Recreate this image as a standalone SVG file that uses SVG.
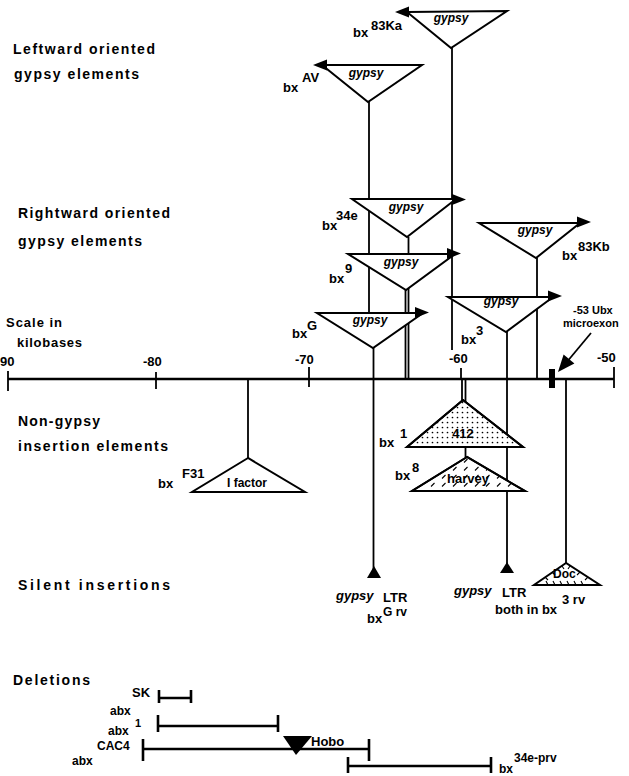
<svg xmlns="http://www.w3.org/2000/svg" width="629" height="776" viewBox="0 0 629 776">
<style>
text{font-family:"Liberation Sans",Arial,sans-serif;font-weight:bold;fill:#000}
.h{font-size:14px}
.s{font-size:13px}
.m{font-size:12px}
.x{font-size:11px}
.g{font-size:12px;font-style:italic}
.gi{font-size:13px;font-style:italic}
.c{text-anchor:middle}
.tri{fill:#fff;stroke:#000;stroke-width:2;stroke-linejoin:miter}
.ln{stroke:#000;stroke-width:1.8;fill:none}
.bar{stroke:#000;stroke-width:2.6;fill:none}
.hd{fill:#000;stroke:none}
</style>
<defs>
<pattern id="dots" width="5" height="5" patternUnits="userSpaceOnUse"><circle cx="2.5" cy="2.5" r="0.85" fill="#000"/></pattern>
<pattern id="dash" width="11" height="8" patternUnits="userSpaceOnUse"><path d="M2 6.5 L5.5 3" stroke="#000" stroke-width="1.1"/></pattern>
</defs>

<g id="labels">
<text class="h" x="13" y="54" textLength="142" lengthAdjust="spacing">Leftward oriented</text>
<text class="h" x="14" y="79" textLength="125" lengthAdjust="spacing">gypsy elements</text>
<text class="h" x="18" y="218" textLength="152" lengthAdjust="spacing">Rightward oriented</text>
<text class="h" x="18" y="246" textLength="124" lengthAdjust="spacing">gypsy elements</text>
<text class="s" x="6" y="327" textLength="56" lengthAdjust="spacing">Scale in</text>
<text class="s" x="17" y="347" textLength="65" lengthAdjust="spacing">kilobases</text>
<text class="h" x="18" y="426" textLength="82" lengthAdjust="spacing">Non-gypsy</text>
<text class="h" x="18" y="451" textLength="150" lengthAdjust="spacing">insertion elements</text>
<text class="h" x="18" y="590" textLength="152" lengthAdjust="spacing">Silent insertions</text>
<text class="h" x="13" y="685" textLength="77" lengthAdjust="spacing">Deletions</text>
</g>

<g id="scale">
<line class="bar" x1="8" y1="379" x2="614" y2="379"/>
<line class="ln" x1="8" y1="371" x2="8" y2="391"/>
<line class="ln" x1="156" y1="372" x2="156" y2="389"/>
<line class="ln" x1="309" y1="367" x2="309" y2="387"/>
<line class="ln" x1="461" y1="368" x2="461" y2="379"/>
<line class="ln" x1="614" y1="367" x2="614" y2="388"/>
<text class="s" x="0" y="366">90</text>
<text class="s" x="143" y="366">-80</text>
<text class="s" x="295" y="364">-70</text>
<text class="s" x="449" y="363">-60</text>
<text class="s" x="597" y="362">-50</text>
</g>

<g id="connectors">
<line class="ln" x1="452" y1="48" x2="452" y2="350"/>
<line class="ln" x1="369" y1="102" x2="369" y2="313"/>
<line class="ln" x1="408.5" y1="237" x2="408.5" y2="379"/>
<line class="ln" x1="405.5" y1="290" x2="405.5" y2="379"/>
<line class="ln" x1="373.5" y1="348" x2="373.5" y2="570"/>
<line class="ln" x1="537" y1="258" x2="537" y2="379"/>
<line class="ln" x1="507" y1="332" x2="507" y2="565"/>
<line class="ln" x1="248" y1="379" x2="248" y2="458"/>
<line class="ln" x1="462" y1="379" x2="462" y2="400"/>
<line class="ln" x1="465.5" y1="379" x2="465.5" y2="457"/>
<line class="ln" x1="566" y1="379" x2="566" y2="563"/>
<line class="ln" x1="591" y1="333" x2="566" y2="363"/>
<polygon class="hd" points="558,372 574.4,363.5 563.6,354.5"/>
</g>

<g id="bx83Ka">
<polygon class="tri" points="407,12 507,11 451,48"/>
<polygon class="hd" points="395,12 409,6.5 409,17.5"/>
<text class="g c" x="451" y="22">gypsy</text>
<text class="s" x="353" y="37">bx</text>
<text class="s" x="371" y="30">83Ka</text>
</g>

<g id="bxAV">
<polygon class="tri" points="322,65 422,65 368,102"/>
<polygon class="hd" points="313,65 327,59.5 327,70.5"/>
<text class="g c" x="366" y="77">gypsy</text>
<text class="s" x="283" y="92">bx</text>
<text class="s" x="302" y="82">AV</text>
</g>

<g id="bx34e">
<polygon class="tri" points="352,199 456,199 407,237"/>
<polygon class="hd" points="466,199.5 452,194 452,205"/>
<text class="g c" x="406" y="211">gypsy</text>
<text class="s" x="322" y="230">bx</text>
<text class="s" x="336" y="220">34e</text>
</g>

<g id="bx9">
<polygon class="tri" points="348,254 455,254 406,290"/>
<polygon class="hd" points="461,253.5 447,248 447,259"/>
<text class="g c" x="401" y="266">gypsy</text>
<text class="s" x="329" y="283">bx</text>
<text class="s" x="345" y="273">9</text>
</g>

<g id="bxG">
<polygon class="tri" points="317,313 423,313 373,348"/>
<polygon class="hd" points="429,312.5 415,307 415,318"/>
<text class="g c" x="370" y="324">gypsy</text>
<text class="s" x="292" y="338">bx</text>
<text class="s" x="307" y="330">G</text>
</g>

<g id="bx83Kb">
<polygon class="tri" points="479,223 580,223 536,258"/>
<polygon class="hd" points="591,222 577,216.5 577,227.5"/>
<text class="g c" x="535" y="234">gypsy</text>
<text class="s" x="562" y="260">bx</text>
<text class="s" x="578" y="251">83Kb</text>
</g>

<g id="bx3">
<polygon class="tri" points="448,297 553,297 506,332"/>
<polygon class="hd" points="562,296 548,290.5 548,301.5"/>
<text class="g c" x="501" y="305">gypsy</text>
<text class="s" x="461" y="344">bx</text>
<text class="s" x="476" y="335">3</text>
</g>

<g id="microexon">
<rect x="549" y="369" width="6" height="19" fill="#000"/>
<text class="x" x="573" y="314">-53 Ubx</text>
<text class="x" x="563" y="327">microexon</text>
</g>

<g id="Ifactor">
<polygon class="tri" points="248,458 192,492 305,492"/>
<text class="m c" x="247" y="487">I factor</text>
<text class="s" x="158" y="488">bx</text>
<text class="s" x="182" y="478">F31</text>
</g>

<g id="el412">
<polygon class="tri" points="463,400 407,447 523,447"/>
<polygon points="463,400 407,447 523,447" fill="url(#dots)" stroke="#000" stroke-width="2"/>
<text class="s c" x="463" y="438">412</text>
<text class="s" x="379" y="447">bx</text>
<text class="s" x="400" y="438">1</text>
</g>

<g id="harvey">
<polygon class="tri" points="467,457 412,491 525,491"/>
<polygon points="467,457 412,491 525,491" fill="url(#dash)" stroke="#000" stroke-width="2"/>
<text class="s c" x="468" y="483">harvey</text>
<text class="s" x="395" y="480">bx</text>
<text class="s" x="412" y="472">8</text>
</g>

<g id="silentG">
<polygon class="hd" points="367,578 381,578 374,566"/>
<text class="gi" x="336" y="600">gypsy</text>
<text class="s" x="383" y="602">LTR</text>
<text class="s" x="367" y="623">bx</text>
<text class="m" x="383" y="616">G rv</text>
</g>

<g id="silent3">
<polygon class="hd" points="500,573 514,573 507,562"/>
<text class="gi" x="454" y="595">gypsy</text>
<text class="s" x="502" y="597">LTR</text>
<text class="s" x="495" y="614">both in bx</text>
<text class="s" x="562" y="604">3 rv</text>
</g>

<g id="Doc">
<polygon class="tri" points="566,563 534,585 600,585"/>
<path d="M548 585 l-2 -4 M555 585 l-2 -4 M562 585 l-2 -4 M569 585 l-2 -4 M576 585 l-2 -4 M583 585 l-2 -4 M545 577 l3 3 M552 572 l3 3 M562 566 l2 3 M570 566 l-2 3 M580 572 l-3 3 M588 577 l-3 3" stroke="#000" stroke-width="1.1" fill="none"/>
<text class="m" x="553" y="578">Doc</text>
</g>

<g id="deletions">
<path class="bar" d="M159 698 H191 M159 690 V703 M191 690 V703"/>
<path class="bar" d="M158 726 H278 M158 715 V732 M278 715 V732"/>
<path class="bar" d="M143 749 H369 M143 739 V761 M369 739 V761"/>
<path class="bar" d="M348 766 H491 M348 757 V773 M491 757 V773"/>
<polygon class="hd" points="283,736 312,736 296,755"/>
<text class="s" x="132" y="697">SK</text>
<text class="m" x="110" y="715">abx</text>
<text class="m" x="108" y="735">abx</text>
<text class="x" x="135" y="727">1</text>
<text class="m" x="97" y="750">CAC4</text>
<text class="m" x="72" y="765">abx</text>
<text class="s" x="311" y="746">Hobo</text>
<text class="m" x="499" y="773">bx</text>
<text class="m" x="514" y="762">34e-prv</text>
</g>
</svg>
